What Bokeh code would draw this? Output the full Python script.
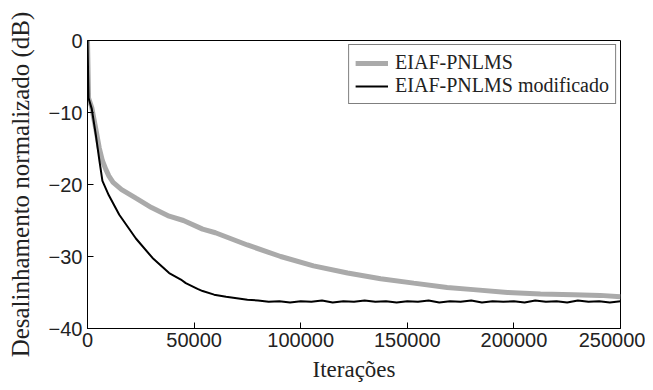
from bokeh.plotting import figure
from bokeh.models import Range1d, FixedTicker, Legend, LegendItem, Title
from bokeh.embed import file_html
from bokeh.resources import INLINE

# --- data ---
x_ticks = [0, 50000, 100000, 150000, 200000, 250000]
y_ticks = [0, -10, -20, -30, -40]

eiaf_x = [0, 500, 2000, 3900, 5500, 7000, 8600, 10000, 12000, 16000, 22700,
          30000, 38300, 45000, 54000, 60000, 75000, 90600, 106000, 122000,
          137500, 153000, 168700, 181000, 197000, 212500, 228000, 240500,
          250000]
eiaf_y = [0, -8, -9.3, -12.3, -14.9, -16.7, -17.9, -18.8, -19.7, -20.7,
          -21.9, -23.2, -24.4, -25.0, -26.2, -26.7, -28.4, -30.0, -31.3,
          -32.3, -33.1, -33.7, -34.3, -34.6, -35.0, -35.2, -35.3, -35.4,
          -35.6]

mod_x = [0, 500, 2000, 3900, 5500, 7000, 10000, 14900, 22700, 30500, 38300,
         43800, 46100, 51600, 54000, 59400, 65000, 70000, 75000, 80000, 85000,
         90000, 95000, 100000, 105000, 110000, 115000, 120000, 125000, 130000,
         135000, 140000, 145000, 150000, 155000, 160000, 165000, 170000,
         175000, 180000, 185000, 190000, 195000, 200000, 205000, 210000,
         215000, 220000, 225000, 230000, 235000, 240000, 245000, 250000]
mod_y = [0, -8, -9.5, -13.1, -16.5, -19.5, -21.5, -24.2, -27.5, -30.2, -32.3,
         -33.2, -33.7, -34.5, -34.8, -35.3, -35.6, -35.8, -36.0, -36.1, -36.3,
         -36.2, -36.4, -36.2, -36.3, -36.1, -36.4, -36.2, -36.3, -36.1,
         -36.3, -36.2, -36.4, -36.2, -36.3, -36.1, -36.4, -36.2, -36.3,
         -36.1, -36.4, -36.2, -36.3, -36.2, -36.4, -36.1, -36.3, -36.2,
         -36.4, -36.1, -36.3, -36.2, -36.4, -36.2]

label_eiaf = "EIAF-PNLMS"
label_mod = "EIAF-PNLMS modificado"

p = figure(width=645, height=386, output_backend="svg", toolbar_location=None,
           x_range=Range1d(0, 250000), y_range=Range1d(-40, 0),
           min_border_left=87, min_border_right=25, min_border_top=40,
           min_border_bottom=57)
p.background_fill_color = "white"
p.border_fill_color = "white"
p.grid.visible = False
p.outline_line_color = "black"
p.outline_line_width = 1

r1 = p.line(eiaf_x, eiaf_y, line_color="#aaaaaa", line_width=5)
r2 = p.line(mod_x, mod_y, line_color="black", line_width=2)

for ax in (p.xaxis[0], p.yaxis[0]):
    ax.major_tick_in = 6
    ax.major_tick_out = 0
    ax.minor_tick_line_color = None
    ax.axis_line_color = "black"
    ax.major_tick_line_color = "black"
    ax.major_label_text_font = "Liberation Sans"
    ax.major_label_text_font_size = "20px"
    ax.major_label_text_color = "#222222"
    ax.axis_label_text_font = "Liberation Serif"
    ax.axis_label_text_font_style = "normal"
    ax.axis_label_text_color = "#222222"

p.xaxis.ticker = FixedTicker(ticks=x_ticks)
p.yaxis.ticker = FixedTicker(ticks=y_ticks)
p.xaxis.major_label_overrides = {t: str(t) for t in x_ticks}
p.xaxis.major_label_standoff = 4
p.yaxis.major_label_standoff = 5

p.yaxis.axis_label = "Desalinhamento normalizado (dB)"
p.yaxis.axis_label_text_font_size = "25px"
p.yaxis.axis_label_standoff = 12

p.add_layout(Title(text="Iterações", align="center", offset=-38,
                   text_font="Liberation Serif", text_font_style="normal",
                   text_font_size="23px", text_color="#222222"), "below")

legend = Legend(items=[LegendItem(label=label_eiaf, renderers=[r1]),
                       LegendItem(label=label_mod, renderers=[r2])],
                location="top_right")
legend.label_text_font = "Liberation Serif"
legend.label_text_font_size = "20px"
legend.label_text_color = "#222222"
legend.border_line_color = "black"
legend.border_line_width = 1
legend.margin = 4
legend.padding = 6
legend.spacing = 0
legend.glyph_width = 33
legend.label_standoff = 7
legend.label_height = 22
legend.glyph_height = 22
p.add_layout(legend)

open("out.html", "w").write(file_html(p, INLINE))
